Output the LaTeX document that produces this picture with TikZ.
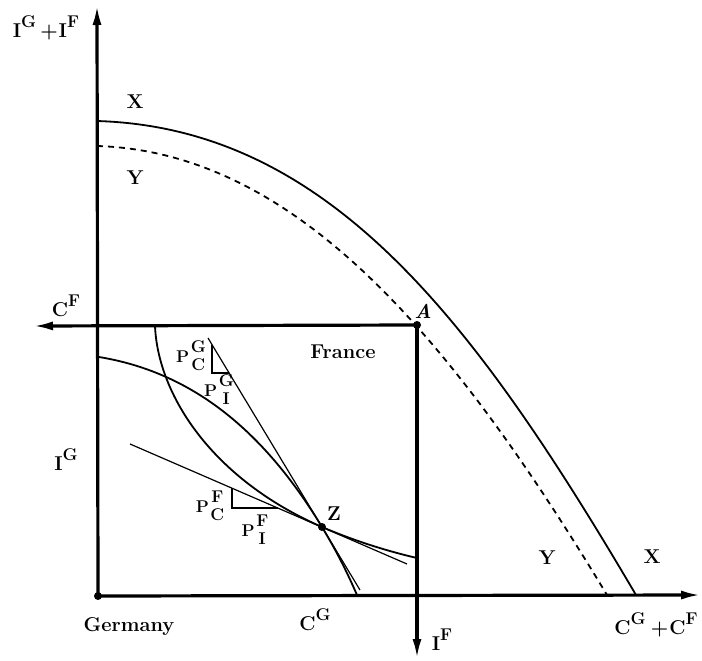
\documentclass[tikz,border=0pt]{standalone}
\usepackage{tikz}
\usetikzlibrary{arrows.meta}
\newcommand{\axlab}[2]{#1\raisebox{10pt}{\fontsize{17}{17}\selectfont #2}}
\newcommand{\pratio}[2]{P\hspace{1.5pt}\begin{tabular}[c]{@{}c@{}}#1\\[1pt]#2\end{tabular}}

\begin{document}
\begin{tikzpicture}[
    x=1pt,y=-1pt,
    axis/.style={line width=3.2pt,-{Latex[length=20pt,width=9pt]}},
    ppf/.style={line width=1.8pt},
    tangent/.style={line width=1.2pt},
    lbl/.style={font=\fontsize{20}{20}\bfseries\selectfont,inner sep=0pt},
    plbl/.style={font=\fontsize{17}{17}\bfseries\selectfont,inner sep=0pt},
    dot/.style={circle,fill=black,minimum size=8pt,inner sep=0pt},
]
\useasboundingbox (0,0) rectangle (702,661);

% ---- key points ----
\coordinate (O) at (98,596);
\coordinate (A) at (417,325);
\coordinate (Z) at (322,527);
\coordinate (yTip) at (97,5);
\coordinate (xTip) at (701,595);
\coordinate (cfTip) at (33,326);
\coordinate (ifTip) at (417,659);

% ---- world frontiers X (solid) and Y (dashed) ----
\draw[ppf] (97,121) .. controls (330,128) and (476,323) .. (636,595);
\draw[ppf,dashed,dash pattern=on 6pt off 5pt] (97,146) .. controls (296,152) and (452,338) .. (607,595);

% ---- axes of Germany and France ----
\draw[axis] (O) -- (yTip);
\draw[axis] (O) -- (xTip);
\draw[axis] (A) -- (cfTip);
\draw[axis] (A) -- (ifTip);

% ---- national frontiers crossing at Z ----
\draw[ppf] (99,357) .. controls (190,372) and (262,428) .. (Z)
               .. controls (337,552) and (347,572) .. (357,595);   % Germany
\draw[ppf] (155,326) .. controls (158,395) and (212,479) .. (Z)
               .. controls (357,542) and (391,552) .. (417,558);   % France

% ---- price lines through Z with slope triangles ----
\draw[tangent] (208,338) -- (360,590);
\draw[tangent] (212,345) -- (212,373) -- (229,373);
\draw[tangent] (130,444) -- (407,564);
\draw[tangent] (232,488) -- (232,508) -- (278,508);

% ---- points ----
\node[dot] (pO) at (O) {};
\node[dot] (pA) at (A) {};
\node[dot] (pZ) at (Z) {};

% ---- labels ----
\node[lbl] (lX1) at (135,102) {X};
\node[lbl] (lY1) at (135,178) {Y};
\node[lbl] (lY2) at (547,558) {Y};
\node[lbl] (lX2) at (652,557) {X};
\node[lbl] (lA) at (423,311) {\itshape A};
\node[lbl] (lZ) at (334,514) {Z};
\node[lbl] (lFrance) at (343,352) {France};
\node[lbl] (lGermany) at (129,627) {Germany};
\node[lbl] (lCG) at (315,620) {\axlab{C}{G}};
\node[lbl] (lIF) at (442,640) {\axlab{I}{F}};
\node[lbl] (lCGCF) at (656,625) {\axlab{C}{G}\hspace{5pt}+\hspace{1pt}\axlab{C}{F}};
\node[lbl] (lCF) at (66,306) {\axlab{C}{F}};
\node[lbl] (lIG) at (66,460) {\axlab{I}{G}};
\node[lbl] (lIGIF) at (46,28) {\axlab{I}{G}\hspace{4pt}+\hspace{1pt}\axlab{I}{F}};
\node[plbl] (lPG1) at (191,358) {\pratio{G}{C}};
\node[plbl] (lPG2) at (219,392) {\pratio{G}{I}};
\node[plbl] (lPF1) at (210,508) {\pratio{F}{C}};
\node[plbl] (lPF2) at (255,532) {\pratio{F}{I}};

\end{tikzpicture}
\end{document}
